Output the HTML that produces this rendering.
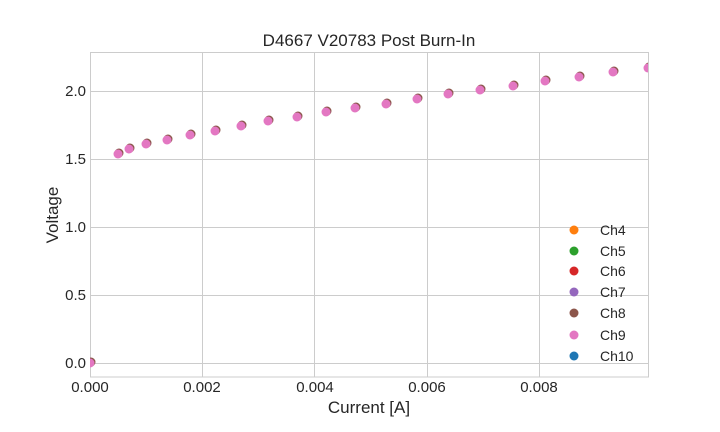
<!DOCTYPE html>
<html><head><style>body{margin:0;background:#fff}svg{display:block;font-family:"Liberation Sans",sans-serif}</style></head>
<body>
<svg width="720" height="432" xmlns="http://www.w3.org/2000/svg">
<defs><clipPath id="c"><rect x="90" y="52" width="558" height="325"/></clipPath>
<g id="pts">
<circle cx="90" cy="363" r="4.5"/><circle cx="118" cy="154" r="4.5"/><circle cx="129" cy="149" r="4.5"/><circle cx="146" cy="144" r="4.5"/><circle cx="167" cy="140" r="4.5"/><circle cx="190" cy="135" r="4.5"/><circle cx="215" cy="131" r="4.5"/><circle cx="241" cy="126" r="4.5"/><circle cx="268" cy="121" r="4.5"/><circle cx="297" cy="117" r="4.5"/><circle cx="326" cy="112" r="4.5"/><circle cx="355" cy="108" r="4.5"/><circle cx="386" cy="104" r="4.5"/><circle cx="417" cy="99" r="4.5"/><circle cx="448" cy="94" r="4.5"/><circle cx="480" cy="90" r="4.5"/><circle cx="513" cy="86" r="4.5"/><circle cx="545" cy="81" r="4.5"/><circle cx="579" cy="77" r="4.5"/><circle cx="613" cy="72" r="4.5"/><circle cx="648" cy="68" r="4.5"/>
</g></defs>
<rect width="720" height="432" fill="#fff"/>
<g stroke="#ccc" stroke-width="1">
<line x1="202.5" y1="52" x2="202.5" y2="377"/>
<line x1="314.5" y1="52" x2="314.5" y2="377"/>
<line x1="427.5" y1="52" x2="427.5" y2="377"/>
<line x1="539.5" y1="52" x2="539.5" y2="377"/>
<line x1="90" y1="91.5" x2="648" y2="91.5"/>
<line x1="90" y1="159.5" x2="648" y2="159.5"/>
<line x1="90" y1="227.5" x2="648" y2="227.5"/>
<line x1="90" y1="295.5" x2="648" y2="295.5"/>
<line x1="90" y1="363.5" x2="648" y2="363.5"/>
</g>
<rect x="90.5" y="52.5" width="558" height="324.5" fill="none" stroke="#ccc"/>
<g font-size="15" fill="#262626">
<text x="90" y="392" text-anchor="middle">0.000</text>
<text x="202" y="392" text-anchor="middle">0.002</text>
<text x="315" y="392" text-anchor="middle">0.004</text>
<text x="427" y="392" text-anchor="middle">0.006</text>
<text x="539" y="392" text-anchor="middle">0.008</text>
<text x="86" y="96" text-anchor="end">2.0</text>
<text x="86" y="164" text-anchor="end">1.5</text>
<text x="86" y="232" text-anchor="end">1.0</text>
<text x="86" y="300" text-anchor="end">0.5</text>
<text x="86" y="368" text-anchor="end">0.0</text>
</g>
<text x="369" y="46" font-size="17" text-anchor="middle" fill="#262626">D4667 V20783 Post Burn-In</text>
<text x="369" y="413" font-size="17" text-anchor="middle" fill="#262626">Current [A]</text>
<text x="58" y="215" font-size="17" text-anchor="middle" fill="#262626" transform="rotate(-90 58 215)">Voltage</text>
<g clip-path="url(#c)">
<use href="#pts" fill="#8c564b" transform="translate(1,-1)"/>
<use href="#pts" fill="#e377c2"/>
</g>
<g font-size="14" fill="#262626">
<circle cx="574" cy="230" r="4.5" fill="#ff7f0e"/><text x="600" y="235">Ch4</text>
<circle cx="574" cy="251" r="4.5" fill="#2ca02c"/><text x="600" y="256">Ch5</text>
<circle cx="574" cy="271" r="4.5" fill="#d62728"/><text x="600" y="276">Ch6</text>
<circle cx="574" cy="292" r="4.5" fill="#9467bd"/><text x="600" y="297">Ch7</text>
<circle cx="574" cy="313" r="4.5" fill="#8c564b"/><text x="600" y="318">Ch8</text>
<circle cx="574" cy="335" r="4.5" fill="#e377c2"/><text x="600" y="340">Ch9</text>
<circle cx="574" cy="356" r="4.5" fill="#1f77b4"/><text x="600" y="361">Ch10</text>
</g>
</svg>
</body></html>
